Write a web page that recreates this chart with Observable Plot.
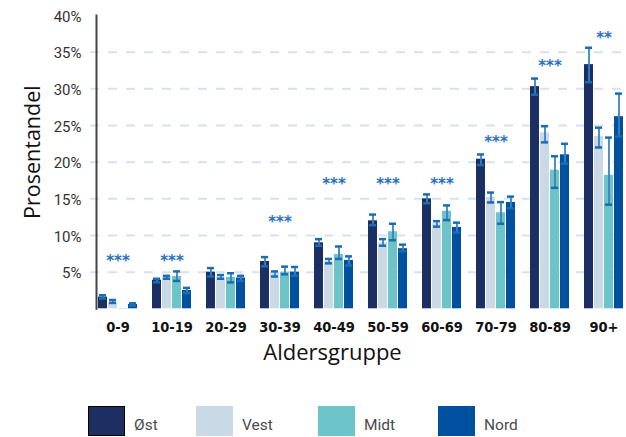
<!DOCTYPE html>
<html><head><meta charset="utf-8">
<script src="https://cdn.jsdelivr.net/npm/d3@7"></script>
<script src="https://cdn.jsdelivr.net/npm/@observablehq/plot@0.6"></script>
<style>
body{margin:0;background:#fff;font-family:Roboto,sans-serif;}
#legend{display:flex;margin:5px 0 0 88px;height:32px}
.item{display:flex;align-items:center}
.sw{width:37px;height:30px;box-sizing:border-box;margin-right:9px}
.lab{font-size:15.5px;color:#4a4a4a;margin-top:8px}
</style></head><body><div id="chart"></div><div id="legend"></div><script>
const ages = ["0-9","10-19","20-29","30-39","40-49","50-59","60-69","70-79","80-89","90+"];
const regions = ["Øst","Vest","Midt","Nord"];
const colors = ["#1b2f63","#c9d9e6","#6cc3c8","#0050a0"];

const ost    = [1.6, 3.9, 5.0, 6.45, 9.0, 12.0, 15.0, 20.4, 30.3, 33.3];
const ostLo  = [1.4, 3.6, 4.4, 5.8, 8.6, 11.4, 14.4, 19.6, 29.2, 30.9];
const ostHi  = [1.85, 4.1, 5.55, 7.05, 9.5, 12.85, 15.6, 21.05, 31.4, 35.6];

const vest   = [0.9, 4.4, 4.3, 4.85, 6.45, 9.0, 11.6, 15.2, 24.0, 23.5];
const vestLo = [0.8, 4.1, 4.1, 4.4, 6.2, 8.6, 11.2, 14.5, 22.7, 22.0];
const vestHi = [1.2, 4.5, 4.6, 5.1, 6.8, 9.5, 11.95, 15.85, 24.9, 24.7];

const midt   = [0.05, 4.4, 4.3, 5.0, 7.4, 10.5, 13.3, 13.1, 18.9, 18.2];
const midtLo = [NaN, 3.8, 3.6, 4.7, 6.8, 9.35, 12.1, 11.6, 16.5, 14.2];
const midtHi = [NaN, 5.1, 4.85, 5.75, 8.5, 11.6, 14.1, 14.55, 20.8, 23.35];

const nord   = [0.6, 2.5, 4.2, 5.0, 6.6, 8.2, 11.1, 14.5, 21.0, 26.2];
const nordLo = [0.45, 2.15, 3.8, 4.5, 5.9, 7.85, 10.4, 13.7, 19.8, 23.5];
const nordHi = [0.75, 2.85, 4.5, 5.7, 7.15, 8.75, 11.75, 15.3, 22.5, 29.35];

const sigLabels = ["***","***","","***","***","***","***","***","***","**"];
const sigY = [7.1, 7.1, NaN, 12.35, 17.6, 17.6, 17.6, 23.2, 33.7, 37.5];

const yTicks = [5,10,15,20,25,30,35,40];
const gridTicks = [5,10,15,20,25,30,35];

const vals = [ost, vest, midt, nord];
const los = [ostLo, vestLo, midtLo, nordLo];
const his = [ostHi, vestHi, midtHi, nordHi];
const data = [];
ages.forEach((a,i) => regions.forEach((r,j) => data.push({age:a, region:r, value:vals[j][i], lo:los[j][i], hi:his[j][i]})));
const errData = data.filter(d => !isNaN(d.lo));
const sig = ages.map((a,i) => ({age:a, label:sigLabels[i], y:sigY[i]})).filter(d => d.label);

const plot = Plot.plot({
  width:626, height:400, marginLeft:88, marginRight:0, marginTop:15, marginBottom:91.7,
  style:{fontFamily:"Roboto, sans-serif", background:"#fff", color:"#333"},
  fx:{domain:ages, paddingInner:0.207, paddingOuter:0.065, align:0.857, label:null},
  x:{domain:regions, paddingInner:0.08, paddingOuter:0, axis:null},
  y:{domain:[0,40], axis:null},
  color:{domain:regions, range:colors},
  marks:[
    Plot.ruleY(gridTicks, {stroke:"#d9e1ea", strokeWidth:2, strokeDasharray:"9,9", insetLeft:-6, insetRight:-6}),
    Plot.frame({anchor:"left", facet:"super", stroke:"#444", strokeWidth:2}),
    Plot.axisY({ticks:yTicks, tickFormat:d => d + "%", tickSize:0, tickPadding:15, fontSize:15, label:null, dy:1.5}),
    Plot.axisFx({anchor:"bottom", tickSize:0, tickPadding:13, fontSize:14.5, fontWeight:"bold", fontFamily:"DejaVu Sans Condensed, DejaVu Sans, sans-serif", label:null, fill:"#111"}),
    Plot.barY(data, {fx:"age", x:"region", y:"value", fill:"region"}),
    Plot.ruleX(errData, {fx:"age", x:"region", y1:"lo", y2:"hi", stroke:"#3a82c4", strokeWidth:1.8}),
    Plot.tickY(errData, {fx:"age", x:"region", y:"lo", stroke:"#1a6db3", strokeWidth:2.5, inset:1}),
    Plot.tickY(errData, {fx:"age", x:"region", y:"hi", stroke:"#1a6db3", strokeWidth:2.5, inset:1}),
    Plot.text(sig, {fx:"age", y:"y", text:"label", fill:"#2a6fc0", fontSize:15, fontWeight:"bold", frameAnchor:"middle", dy:4, fontFamily:"DejaVu Sans"}),
    Plot.text(["Prosentandel"], {text:d => d, frameAnchor:"left", textAnchor:"middle", dx:-63, dy:-10, rotate:-90, fontSize:21.5, fontFamily:"Open Sans, sans-serif", fill:"#111", facet:"super"}),
    Plot.text(["Aldersgruppe"], {text:d => d, frameAnchor:"bottom", dx:-28.5, dy:51, fontSize:22, fontFamily:"Open Sans, sans-serif", fill:"#111", facet:"super"})
  ]
});
document.getElementById("chart").appendChild(plot);

const legend = document.getElementById("legend");
const itemWidths = [108, 122, 120, 120];
regions.forEach((r,i) => {
  const it = document.createElement("div");
  it.className = "item";
  it.style.width = itemWidths[i] + "px";
  const sw = document.createElement("div");
  sw.className = "sw";
  sw.style.background = colors[i];
  if (i === 0) sw.style.border = "1px solid #000";
  const lab = document.createElement("span");
  lab.className = "lab";
  lab.textContent = r;
  it.appendChild(sw); it.appendChild(lab);
  legend.appendChild(it);
});
</script></body></html>
